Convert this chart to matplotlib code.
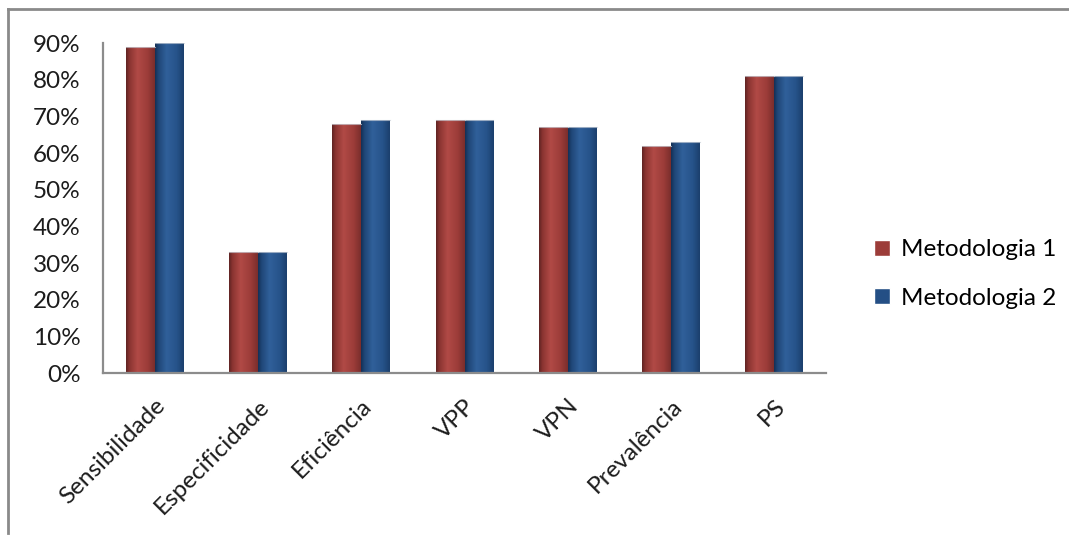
import numpy as np
import matplotlib
matplotlib.use("Agg")
import matplotlib.pyplot as plt
from matplotlib.colors import LinearSegmentedColormap
from matplotlib.lines import Line2D
from matplotlib.patches import Patch

plt.rcParams['font.family'] = ['Lato', 'DejaVu Sans']

categories = ["Sensibilidade", "Especificidade", "Eficiência", "VPP", "VPN", "Prevalência", "PS"]
metodologia_1 = [89, 33, 68, 69, 67, 62, 81]
metodologia_2 = [90, 33, 69, 69, 67, 63, 81]
series_names = ["Metodologia 1", "Metodologia 2"]
y_ticks = [0, 10, 20, 30, 40, 50, 60, 70, 80, 90]

red_cmap = LinearSegmentedColormap.from_list(
    "red_cyl", [(0.0, "#5e2322"), (0.12, "#8a3431"), (0.4, "#b14a46"), (0.75, "#9c3c39"), (1.0, "#7a2e2c")])
blue_cmap = LinearSegmentedColormap.from_list(
    "blue_cyl", [(0.0, "#142f55"), (0.12, "#1f4677"), (0.4, "#30609a"), (0.75, "#26538a"), (1.0, "#1b3f6c")])

FS = 17.5

fig = plt.figure(figsize=(10.69, 5.35), dpi=100)
ax = fig.add_axes([0.0964, 0.3028, 0.6763, 0.6168])

x = np.arange(len(categories))
w = 0.28
grad = np.linspace(0, 1, 256).reshape(1, -1)

for vals, cmap, off in [(metodologia_1, red_cmap, -w / 2), (metodologia_2, blue_cmap, w / 2)]:
    bars = ax.bar(x + off, vals, width=w, color="none", edgecolor="none", zorder=2)
    for b in bars:
        x0, h, bw = b.get_x(), b.get_height(), b.get_width()
        im = ax.imshow(grad, cmap=cmap, aspect="auto", extent=(x0, x0 + bw, 0, h),
                       interpolation="bilinear", zorder=2)
        im.set_clip_path(b)
        ax.plot([x0, x0 + bw], [h, h], color="#c9cfd8", lw=0.8, zorder=3, alpha=0.7)

ax.set_xlim(-0.5, len(categories) - 0.5)
ax.set_ylim(0, 90)
ax.set_yticks(y_ticks)
ax.set_yticklabels([f"{t}%" for t in y_ticks], fontsize=FS, color="#1c1c1c")
ax.set_xticks(x)
ax.set_xticklabels(categories, rotation=45, ha="right", rotation_mode="anchor",
                   fontsize=FS, color="#1c1c1c")
ax.tick_params(axis="y", length=0, pad=16)
ax.tick_params(axis="x", length=0, pad=16)

for side in ["top", "right"]:
    ax.spines[side].set_visible(False)
for side in ["left", "bottom"]:
    ax.spines[side].set_color("#8c8c8c")
    ax.spines[side].set_linewidth(1.6)

handles = [Patch(facecolor="#9c3c39", edgecolor="#ffffff"),
           Patch(facecolor="#244f85", edgecolor="#ffffff")]
fig.legend(handles, series_names, loc="center left", bbox_to_anchor=(0.818, 0.488),
           frameon=False, fontsize=FS, handlelength=0.65, handleheight=0.65,
           handletextpad=0.45, labelspacing=1.12, borderaxespad=0, borderpad=0)

# chart-area frame (top and left edges)
fig.add_artist(Line2D([0.0075, 1.0], [0.9835, 0.9835], transform=fig.transFigure,
                      color="#8a8a8a", lw=2.0))
fig.add_artist(Line2D([0.0075, 0.0075], [0.003, 0.9835], transform=fig.transFigure,
                      color="#8a8a8a", lw=2.0))

fig.savefig("out.png", dpi=100, facecolor="white")
